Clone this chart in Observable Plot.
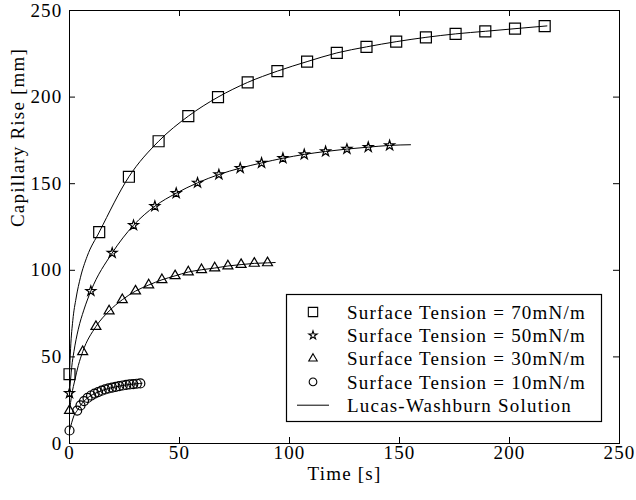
<!DOCTYPE html>
<html><head><meta charset="utf-8">
<script src="https://cdn.jsdelivr.net/npm/d3@7"></script>
<script src="https://cdn.jsdelivr.net/npm/@observablehq/plot@0.6"></script>
<style>
body{margin:0;background:#fff;}
#chart svg{display:block;}
</style></head><body><div id="chart"></div>
<script>
// ---- data ----
const xTicks = [0, 50, 100, 150, 200, 250];
const yTicks = [0, 50, 100, 150, 200, 250];
const innerTicks = [50, 100, 150, 200];
const seriesNames = ["Surface Tension = 70mN/m", "Surface Tension = 50mN/m", "Surface Tension = 30mN/m", "Surface Tension = 10mN/m"];
const seriesSymbols = ["square", "star", "triangle", "circle"];
const lineName = "Lucas-Washburn Solution";

// measured points
const t70 = [0, 13.5, 27, 40.5, 54, 67.5, 81, 94.5, 108, 121.5, 135, 148.5, 162, 175.5, 189, 202.5, 216];
const h70 = [40, 122, 154, 174.5, 189, 200, 208.5, 215, 220.5, 225.5, 229, 232, 234.5, 236.5, 238, 239.5, 241];
const t50 = [0, 9.7, 19.4, 29.1, 38.8, 48.5, 58.2, 67.9, 77.6, 87.3, 97, 106.7, 116.4, 126.1, 135.8, 145.5];
const h50 = [29, 88, 110, 126, 137, 144.5, 150.5, 155.3, 159, 162, 164.7, 166.9, 168.6, 170, 171.1, 172.1];
const t30 = [0, 6, 12, 18, 24, 30, 36, 42, 48, 54, 60, 66, 72, 78, 84, 90];
const h30 = [19, 53, 67.5, 76.5, 83, 88, 91.5, 94.5, 96.8, 99, 100.3, 101.3, 102.5, 103.3, 104, 104.3];
const t10 = [0, 3.5, 5, 6.6, 8.2, 9.8, 11.4, 13, 14.6, 16.2, 17.8, 19.4, 21, 22.6, 24.2, 25.8, 27.4, 29, 30.6, 32.2];
const h10 = [7.5, 19, 22, 24.5, 26.3, 27.7, 28.8, 29.7, 30.5, 31.2, 31.8, 32.3, 32.7, 33.1, 33.5, 33.8, 34.1, 34.3, 34.5, 34.7];

// Lucas-Washburn curves
const lt70 = [0, 0.5, 1.5, 3, 5, 8, 13.5, 27, 40.5, 54, 67.5, 81, 94.5, 108, 121.5, 135, 148.5, 162, 175.5, 189, 202.5, 217];
const lh70 = [40, 55, 71, 84, 96, 108, 122, 154, 174.5, 189, 200, 208.5, 215, 220.5, 225.5, 229, 232, 234.5, 236.5, 238, 239.5, 241.1];
const lt50 = [0, 1, 2, 4, 6.5, 9.7, 19.4, 29.1, 38.8, 48.5, 58.2, 67.9, 77.6, 87.3, 97, 106.7, 116.4, 126.1, 135.8, 145.5, 155];
const lh50 = [29, 44, 53, 66, 77, 88, 110, 126, 137, 144.5, 150.5, 155.3, 159, 162, 164.7, 166.9, 168.6, 170, 171.1, 172.1, 172.5];
const lt30 = [0, 1, 2.5, 4, 6, 12, 18, 24, 30, 36, 42, 48, 54, 60, 66, 72, 78, 84, 90, 93.5];
const lh30 = [19, 28, 37, 45, 53, 67.5, 76.5, 83, 88, 91.5, 94.5, 96.8, 99, 100.3, 101.3, 102.5, 103.3, 104, 104.3, 104.5];
const lt10 = [0, 1, 2, 3.5, 5, 8.2, 11.4, 14.6, 17.8, 21, 24.2, 27.4, 30.6, 33];
const lh10 = [7.5, 12, 16, 19, 22, 26.3, 28.8, 30.5, 31.8, 32.7, 33.5, 34.1, 34.5, 34.8];

// ---- tables ----
const pts = [];
[[t70,h70],[t50,h50],[t30,h30],[t10,h10]].forEach(([ts,hs],i)=>ts.forEach((t,j)=>pts.push({t, h:hs[j], s:seriesNames[i], sym:seriesSymbols[i]})));
const lines = [];
[[lt70,lh70],[lt50,lh50],[lt30,lh30],[lt10,lh10]].forEach(([ts,hs],i)=>ts.forEach((t,j)=>lines.push({t, h:hs[j], s:seriesNames[i]})));

const symR = {square: 6.2, star: 3.1, triangle: 3.7, circle: 4.5};
const FONT = "Liberation Serif, Times New Roman, serif";

const plot = Plot.plot({
  width: 636, height: 500,
  marginLeft: 69, marginRight: 17, marginTop: 10, marginBottom: 57,
  style: {fontFamily: FONT, fontSize: "19px", color: "black", background: "white", letterSpacing: "1.2px"},
  x: {domain: [0, 250], axis: null},
  y: {domain: [0, 250], axis: null},
  symbol: {domain: seriesSymbols, range: seriesSymbols},
  marks: [
    Plot.frame({stroke: "black", strokeWidth: 1}),
    Plot.tickX(innerTicks, {x: d => d, insetTop: 427, stroke: "black"}),
    Plot.tickX(innerTicks, {x: d => d, insetBottom: 427, stroke: "black"}),
    Plot.tickY(innerTicks, {y: d => d, insetRight: 544, stroke: "black"}),
    Plot.tickY(innerTicks, {y: d => d, insetLeft: 544, stroke: "black"}),
    Plot.text(xTicks, {x: d => d, frameAnchor: "bottom", dy: 15, text: d => String(d), fill: "black"}),
    Plot.text(yTicks, {y: d => d, frameAnchor: "left", dx: -7, textAnchor: "end", text: d => String(d), fill: "black"}),
    Plot.text(["Time [s]"], {frameAnchor: "bottom", dy: 36, fill: "black"}),
    Plot.text(["Capillary Rise [mm]"], {frameAnchor: "left", dx: -52, rotate: -90, fill: "black"}),
    Plot.line(lines, {x: "t", y: "h", z: "s", curve: "monotone-x", stroke: "black", strokeWidth: 1}),
    ...seriesSymbols.map(sym => Plot.dot(pts.filter(d => d.sym === sym), {x: "t", y: "h", symbol: "sym", r: symR[sym], stroke: "black", strokeWidth: 1.2, fill: "none"}))
  ]
});
document.getElementById("chart").appendChild(plot);

// ---- legend (layout in pixels) ----
const svg = d3.select(plot);
const lg = svg.append("g").attr("font-family", FONT).attr("font-size", 19).attr("text-anchor", "start");
lg.append("rect").attr("x", 286.5).attr("y", 294.5).attr("width", 315).attr("height", 127)
  .attr("fill", "white").attr("stroke", "black").attr("stroke-width", 1.2);
const d3sym = {square: d3.symbolSquare, star: d3.symbolStar, triangle: d3.symbolTriangle, circle: d3.symbolCircle};
const rowY = i => 312 + i * 23.3;
seriesNames.forEach((name, i) => {
  const sym = seriesSymbols[i];
  const r = symR[sym] * 0.85;
  lg.append("path").attr("d", d3.symbol(d3sym[sym], r * r * Math.PI)())
    .attr("transform", `translate(313,${rowY(i)})`)
    .attr("fill", "none").attr("stroke", "black").attr("stroke-width", 1.1);
  lg.append("text").attr("x", 347).attr("y", rowY(i)).attr("dy", "0.35em").attr("text-anchor", "start").attr("fill", "black").text(name);
});
lg.append("line").attr("x1", 297).attr("x2", 329).attr("y1", rowY(4)).attr("y2", rowY(4)).attr("stroke", "black");
lg.append("text").attr("x", 347).attr("y", rowY(4)).attr("dy", "0.35em").attr("text-anchor", "start").attr("fill", "black").text(lineName);
</script></body></html>
